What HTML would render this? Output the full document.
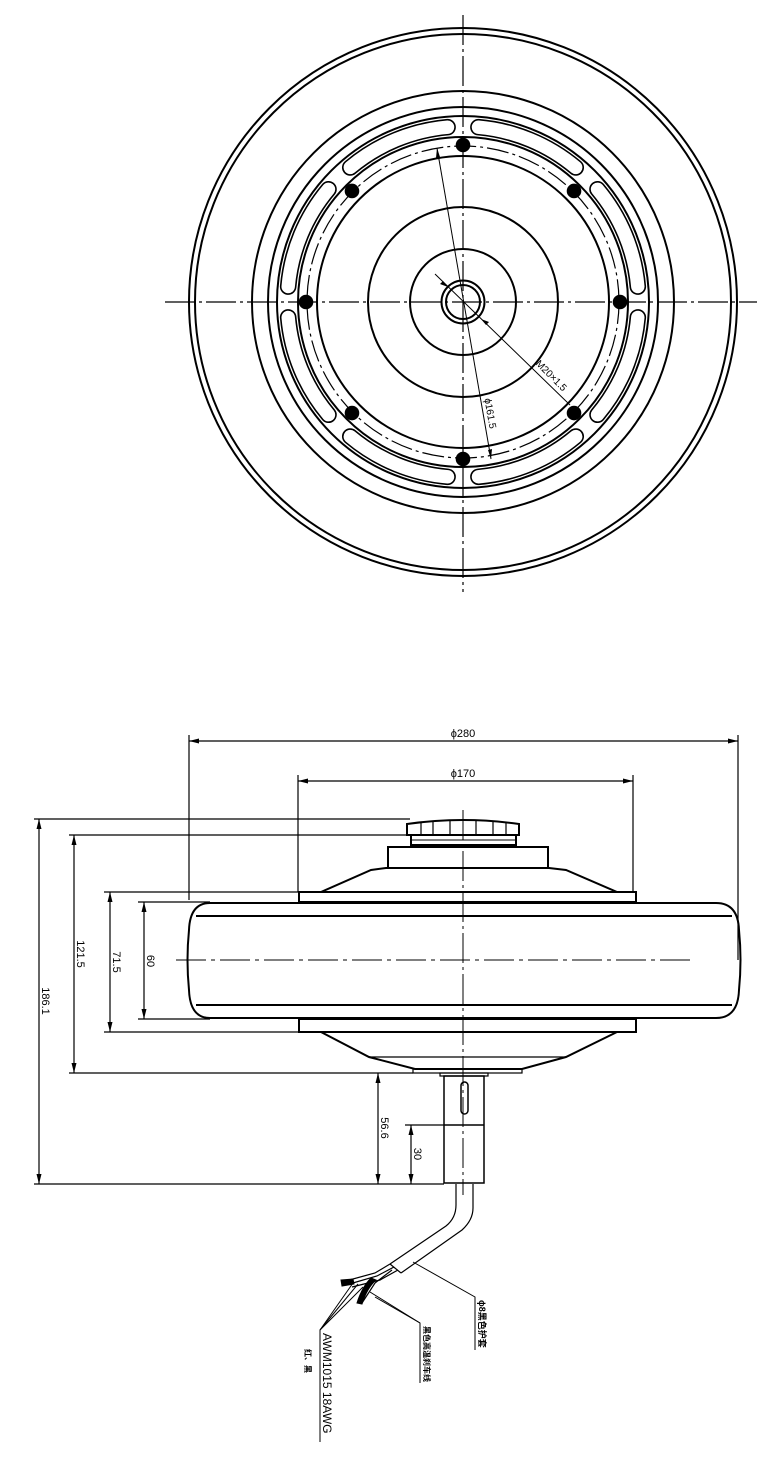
<!DOCTYPE html>
<html><head><meta charset="utf-8"><style>
html,body{margin:0;padding:0;background:#fff;}
svg{display:block;}
text{font-family:"Liberation Sans","Noto Sans CJK SC",sans-serif;fill:#000;}
</style></head><body>
<svg id="s" width="783" height="1465" viewBox="0 0 783 1465" xmlns="http://www.w3.org/2000/svg">
<g fill="none" stroke="#000">
<!-- TOP VIEW -->
<line x1="463" y1="15" x2="463" y2="592" stroke-width="1.2" stroke-dasharray="30,4,3,4"/>
<line x1="165" y1="302" x2="757" y2="302" stroke-width="1.2" stroke-dasharray="30,4,3,4"/>
<g stroke-width="2">
<circle cx="463" cy="302" r="274"/>
<circle cx="463" cy="302" r="268"/>
<circle cx="463" cy="302" r="211"/>
<circle cx="463" cy="302" r="195"/>
<circle cx="463" cy="302" r="186"/>
<circle cx="463" cy="302" r="165"/>
<circle cx="463" cy="302" r="146"/>
<circle cx="463" cy="302" r="95"/>
<circle cx="463" cy="302" r="53"/>
<circle cx="463" cy="302" r="21.5"/>
<circle cx="463" cy="302" r="17"/>
</g>
<circle cx="463" cy="302" r="156" stroke-width="1.2" stroke-dasharray="22,4,3,4"/>
<g id="slots" stroke-width="1.6"></g>
<!-- dims top -->
<line x1="437" y1="148" x2="491" y2="459" stroke-width="1"/>
<path d="M437 148 l-1 10 l4 -1 z M491 459 l1 -10 l-4 1 z" fill="#000" stroke="none"/>
<line x1="435" y1="274" x2="570" y2="405" stroke-width="1"/>
<path d="M448 287 l-8 -3 l3 -3 z M481 319 l8 3 l-3 3 z" fill="#000" stroke="none"/>

<!-- SIDE VIEW -->
<g stroke-width="1.2">
<line x1="189" y1="735" x2="189" y2="900"/>
<line x1="738" y1="735" x2="738" y2="960"/>
<line x1="189" y1="741" x2="738" y2="741"/>
<line x1="298" y1="775" x2="298" y2="892"/>
<line x1="633" y1="775" x2="633" y2="892"/>
<line x1="298" y1="781" x2="633" y2="781"/>
<line x1="34" y1="819" x2="410" y2="819"/>
<line x1="69" y1="835" x2="410" y2="835"/>
<line x1="104" y1="892" x2="298" y2="892"/>
<line x1="138" y1="902" x2="210" y2="902"/>
<line x1="138" y1="1019" x2="210" y2="1019"/>
<line x1="104" y1="1032" x2="298" y2="1032"/>
<line x1="69" y1="1073" x2="413" y2="1073"/>
<line x1="34" y1="1184" x2="444" y2="1184"/>
<line x1="405" y1="1125" x2="444" y2="1125"/>
<line x1="39" y1="819" x2="39" y2="1184"/>
<line x1="74" y1="835" x2="74" y2="1073"/>
<line x1="110" y1="892" x2="110" y2="1032"/>
<line x1="144" y1="902" x2="144" y2="1019"/>
<line x1="378" y1="1073" x2="378" y2="1184"/>
<line x1="411" y1="1125" x2="411" y2="1184"/>
</g>
<g fill="#000" stroke="none">
<path d="M189 741 l10 -2.5 v5 z M738 741 l-10 -2.5 v5 z M298 781 l10 -2.5 v5 z M633 781 l-10 -2.5 v5 z"/>
<path d="M39 819 l-2.5 10 h5 z M39 1184 l-2.5 -10 h5 z M74 835 l-2.5 10 h5 z M74 1073 l-2.5 -10 h5 z"/>
<path d="M110 892 l-2.5 10 h5 z M110 1032 l-2.5 -10 h5 z M144 902 l-2.5 10 h5 z M144 1019 l-2.5 -10 h5 z"/>
<path d="M378 1073 l-2.5 10 h5 z M378 1184 l-2.5 -10 h5 z M411 1125 l-2.5 10 h5 z M411 1184 l-2.5 -10 h5 z"/>
</g>
<line x1="176" y1="960" x2="692" y2="960" stroke-width="1" stroke-dasharray="30,5,4,5"/>
<line x1="463" y1="810" x2="463" y2="1195" stroke-width="1" stroke-dasharray="30,4,3,4"/>
<g stroke-width="2">
<path d="M210 903 H716 Q738 903 739 930 Q742 960 739 990 Q738 1018 716 1018 H210 Q190 1018 189 990 Q186 960 189 930 Q190 903 210 903 Z"/>
<line x1="196" y1="916" x2="732" y2="916"/>
<line x1="196" y1="1005" x2="732" y2="1005"/>
<rect x="299" y="892" width="337" height="10"/>
<rect x="299" y="1019" width="337" height="13"/>
<path d="M321 892 L371 870 L386 868 H549 L566 870 L617 892"/>
<rect x="388" y="847" width="160" height="21"/>
<path d="M407 835 V824 Q463 816 519 824 V835 Z"/>
<path d="M411 835 V845 H516 V835"/>
<line x1="411" y1="840" x2="516" y2="840" stroke-width="1"/>
<path d="M421 823 V835 M433 821 V835 M450 820 V835 M476 820 V835 M493 821 V835 M506 823 V835" stroke-width="1.2"/>
<path d="M321 1032 L369 1057 L415 1069 H522 L566 1057 L617 1032"/>
<line x1="369" y1="1057" x2="566" y2="1057" stroke-width="1.2"/>
<rect x="413" y="1069" width="109" height="4" stroke-width="1.2"/>
<rect x="444" y="1076" width="40" height="107" stroke-width="1.5"/>
<rect x="440" y="1073" width="48" height="3" stroke-width="1.2"/>
<line x1="444" y1="1125" x2="484" y2="1125" stroke-width="1.5"/>
<rect x="461" y="1082" width="7" height="32" rx="3.5" stroke-width="1.5"/>
</g>
<g stroke-width="1.2">
<path d="M456 1184 V1205 Q456 1218 446 1226 L390 1264"/>
<path d="M473 1184 V1208 Q473 1220 462 1230 L401 1273"/>
<line x1="390" y1="1264" x2="401" y2="1273"/>
<path d="M390 1264 L375 1273 L342 1282 M394 1267 L377 1276 L346 1285 M398 1270 L380 1280 L352 1287"/>
<path d="M392 1270 L375 1283 L362 1303"/>
</g>
<path d="M341 1280 l12 -1 l1 5 l-12 2 z" fill="#000"/>
<path d="M376 1280 q-9 8 -14 24 l-5 -1 q5 -16 14 -25 z" fill="#000"/>
<g stroke-width="1">
<polyline points="413,1262 475,1297 475,1350"/>
<polyline points="370,1292 420,1323 420,1383"/>
<line x1="375" y1="1297" x2="420" y2="1323"/>
<polyline points="320,1442 320,1330 353,1283"/>
<line x1="320" y1="1330" x2="358" y2="1284"/>
<line x1="320" y1="1330" x2="363" y2="1287"/>
</g>
</g>
<text x="463" y="737" font-size="11" text-anchor="middle">ϕ280</text>
<text x="463" y="777" font-size="11" text-anchor="middle">ϕ170</text>
<text transform="translate(42,1001) rotate(90)" font-size="11" text-anchor="middle">186.1</text>
<text transform="translate(77,954) rotate(90)" font-size="11" text-anchor="middle">121.5</text>
<text transform="translate(113,962) rotate(90)" font-size="11" text-anchor="middle">71.5</text>
<text transform="translate(147,961) rotate(90)" font-size="11" text-anchor="middle">60</text>
<text transform="translate(381,1128) rotate(90)" font-size="11" text-anchor="middle">56.6</text>
<text transform="translate(414,1154) rotate(90)" font-size="11" text-anchor="middle">30</text>
<text transform="translate(487,414) rotate(80)" font-size="10" text-anchor="middle">ϕ161.5</text>
<text transform="translate(549,378) rotate(45)" font-size="10" text-anchor="middle">M20×1.5</text>
<text transform="translate(479,1300) rotate(90)" font-size="9" font-weight="bold">ϕ8黑色护套</text>
<text transform="translate(424,1326) rotate(90)" font-size="8" font-weight="bold">黑色高温刹车线</text>
<text transform="translate(323,1333) rotate(90)" font-size="12">AWM1015 18AWG</text>
<text transform="translate(305,1349) rotate(90)" font-size="8" font-weight="bold">红、黑</text>
</svg>
<script>
(function(){
var g=document.getElementById('slots'),ns='http://www.w3.org/2000/svg',cx=463,cy=302,ro=183,ri=168,rc=(ro-ri)/2;
function p(r,a){a=a*Math.PI/180;return (cx+r*Math.cos(a)).toFixed(2)+' '+(cy+r*Math.sin(a)).toFixed(2);}
for(var k=0;k<8;k++){
var a1=k*45+5,a2=(k+1)*45-5;
var d='M'+p(ro,a1)+' A'+ro+' '+ro+' 0 0 1 '+p(ro,a2)+' A'+rc+' '+rc+' 0 0 1 '+p(ri,a2)+' A'+ri+' '+ri+' 0 0 0 '+p(ri,a1)+' A'+rc+' '+rc+' 0 0 1 '+p(ro,a1)+' Z';
var e=document.createElementNS(ns,'path');e.setAttribute('d',d);e.setAttribute('fill','#fff');g.appendChild(e);
var a=k*45*Math.PI/180,c=document.createElementNS(ns,'circle');
c.setAttribute('cx',cx+157*Math.cos(a));c.setAttribute('cy',cy+157*Math.sin(a));c.setAttribute('r',6.5);c.setAttribute('fill','#000');g.appendChild(c);
}
})();
</script>
</body></html>
